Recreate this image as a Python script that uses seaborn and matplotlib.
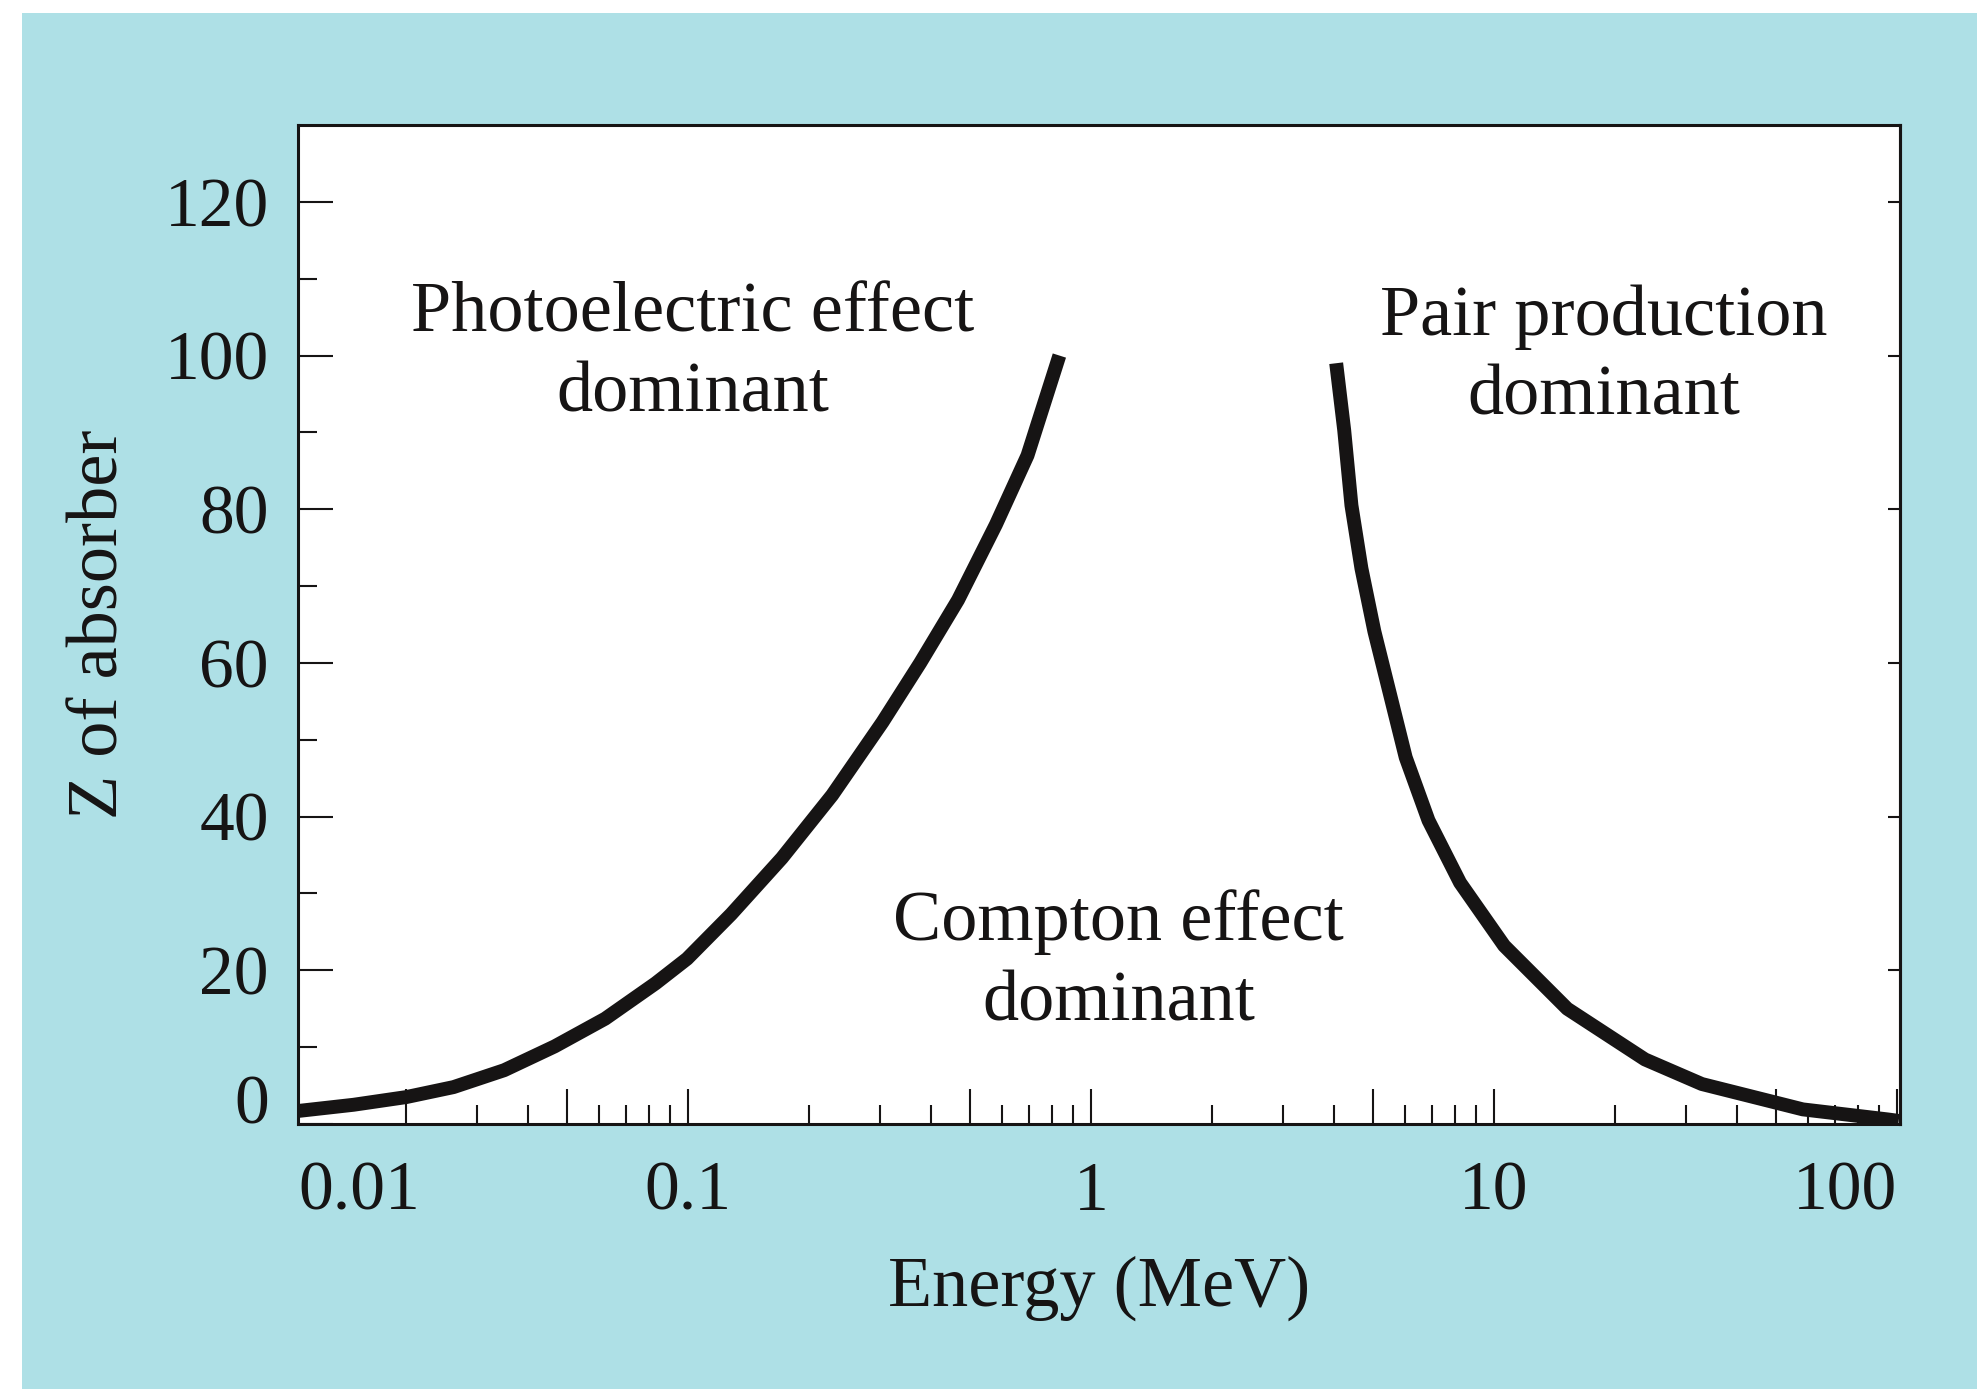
import matplotlib.pyplot as plt
from matplotlib.patches import Rectangle
from matplotlib.ticker import NullFormatter
import seaborn as sns

# boundary lines: Z of absorber vs photon energy (MeV)
photo_energy = [0.0104, 0.0148, 0.0200, 0.0262, 0.0350, 0.0467, 0.0623, 0.0831, 0.0995,
                0.128, 0.171, 0.228, 0.304, 0.377, 0.468, 0.581, 0.696, 0.835]
photo_z = [1.6, 2.5, 3.5, 4.8, 7.0, 10.1, 13.7, 18.3, 21.5,
           27.3, 34.6, 42.8, 52.3, 60.0, 68.2, 78.0, 87.0, 100.0]

pair_energy = [4.06, 4.25, 4.43, 4.69, 5.05, 5.62, 6.04, 6.88, 8.24,
               10.6, 15.2, 23.7, 32.8, 58.4, 94.6, 101.0]
pair_z = [99.0, 90.3, 80.5, 72.3, 64.1, 54.3, 47.7, 39.5, 31.4,
          23.2, 15.0, 8.4, 5.2, 1.9, 0.6, 0.4]

x_major = [0.02, 0.05, 0.1, 0.5, 1, 5, 10, 50, 100]
x_major_labels = ["", "", "0.1", "", "1", "", "10", "", "100"]
x_minor = [0.03, 0.04, 0.06, 0.07, 0.08, 0.09, 0.2, 0.3, 0.4, 0.6, 0.7, 0.8, 0.9,
           2, 3, 4, 6, 7, 8, 9, 20, 30, 40, 60, 70, 80, 90]
y_major = [0, 20, 40, 60, 80, 100, 120]
y_minor = [10, 30, 50, 70, 90, 110]

ink = "#161414"

sns.set_style("ticks")
plt.rcParams["font.family"] = ["Liberation Serif", "DejaVu Serif"]

fig = plt.figure(figsize=(19.77, 13.89), dpi=100, facecolor="white")
# cyan page background of the scan
fig.patches.append(Rectangle((22 / 1977, 0), 1, 1 - 13 / 1389, transform=fig.transFigure,
                             facecolor="#aee0e6", edgecolor="none", zorder=-10))
ax = fig.add_axes([0.1507, 0.1908, 0.8103, 0.7192])
ax.set_facecolor("white")

for xs, ys in [(photo_energy, photo_z), (pair_energy, pair_z)]:
    sns.lineplot(x=xs, y=ys, ax=ax, sort=False, color=ink, linewidth=10,
                 solid_capstyle="butt", solid_joinstyle="round")

ax.set_xscale("log")
ax.set_xlim(0.01077, 101.7)
ax.set_ylim(0, 130)

ax.set_xticks(x_major, labels=x_major_labels)
ax.set_xticks(x_minor, minor=True)
ax.xaxis.set_minor_formatter(NullFormatter())
ax.set_yticks(y_major)
ax.set_yticks(y_minor, minor=True)

ax.tick_params(axis="both", which="major", direction="in", length=25, width=1.5,
               color=ink, labelcolor=ink, labelsize=50)
ax.tick_params(axis="both", which="minor", direction="in", length=14, width=1.5, color=ink)
ax.tick_params(axis="x", which="major", pad=27)
ax.tick_params(axis="y", which="major", pad=21)

ax.get_xticklabels()[-1].set_horizontalalignment("right")
ax.get_yticklabels()[0].set_verticalalignment("baseline")
# the first decade label sits at the left end of the axis
ax.annotate("0.01", xy=(0, 0), xycoords="axes fraction", xytext=(0, -27),
            textcoords="offset points", ha="left", va="top", fontsize=50, color=ink)

for s in ax.spines.values():
    s.set_linewidth(2.2)
    s.set_color(ink)

sec = ax.secondary_yaxis("right")
sec.set_yticks(y_major)
sec.tick_params(direction="in", length=9, width=1.5, color=ink, labelright=False)
sec.spines["right"].set_linewidth(2.2)
sec.spines["right"].set_color(ink)

ax.set_xlabel("Energy (MeV)", fontsize=52, color=ink)
ax.xaxis.set_label_coords(0.5, -0.132)
ax.set_ylabel("Z of absorber", fontsize=52, color=ink)
ax.yaxis.set_label_coords(-0.103, 0.5)

ax.text(0.103, 100.2, "Photoelectric effect\ndominant", fontsize=52, color=ink,
        ha="center", va="center", linespacing=1.3)
ax.text(1.17, 21.0, "Compton effect\ndominant", fontsize=52, color=ink,
        ha="center", va="center", linespacing=1.3)
ax.text(18.7, 99.8, "Pair production\ndominant", fontsize=52, color=ink,
        ha="center", va="center", linespacing=1.3)

fig.savefig("out.png", dpi=100, facecolor=fig.get_facecolor())
